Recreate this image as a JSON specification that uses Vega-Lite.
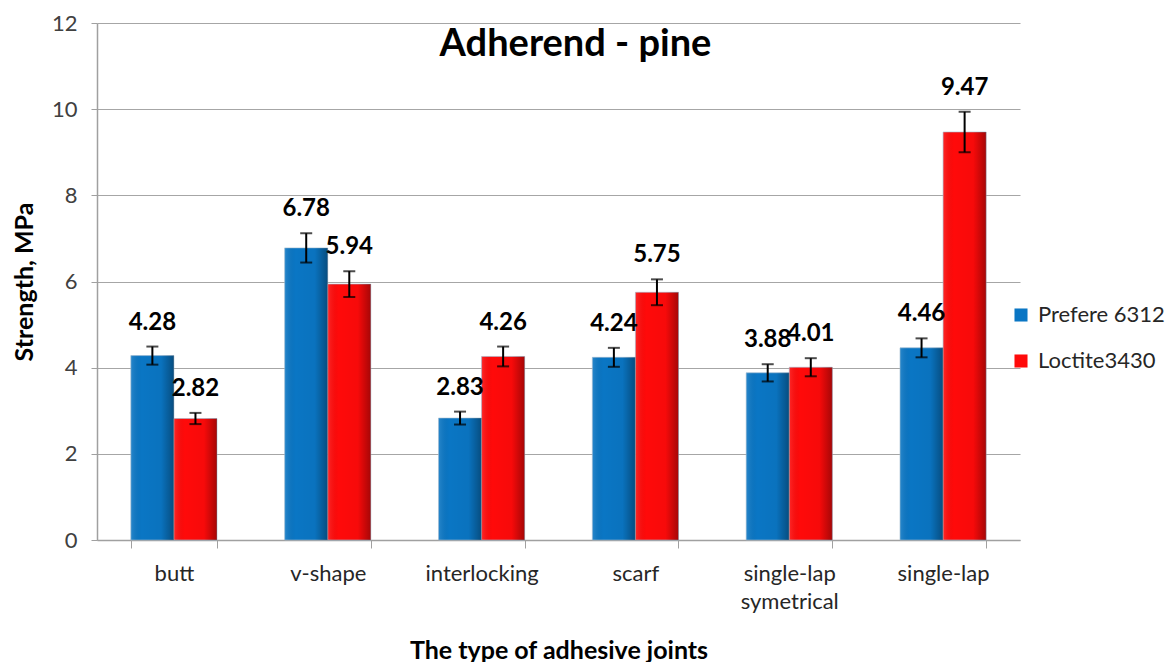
{
  "$schema": "https://vega.github.io/schema/vega-lite/v6.json",
  "width": 923,
  "height": 517,
  "autosize": "none",
  "padding": {"left": 97, "top": 23, "right": 155, "bottom": 122},
  "background": "white",
  "config": {"view": {"stroke": null}},
  "title": {
    "text": "Adherend - pine",
    "font": "Lato",
    "fontSize": 38,
    "fontWeight": "bold",
    "color": "#000000",
    "anchor": "middle",
    "dx": 17,
    "offset": -52
  },
  "data": {
    "values": [
      {"joint": "butt", "adhesive": "Prefere 6312", "strength": 4.28, "lo": 4.07, "hi": 4.49},
      {"joint": "butt", "adhesive": "Loctite3430", "strength": 2.82, "lo": 2.69, "hi": 2.95},
      {"joint": "v-shape", "adhesive": "Prefere 6312", "strength": 6.78, "lo": 6.44, "hi": 7.12},
      {"joint": "v-shape", "adhesive": "Loctite3430", "strength": 5.94, "lo": 5.64, "hi": 6.24},
      {"joint": "interlocking", "adhesive": "Prefere 6312", "strength": 2.83, "lo": 2.68, "hi": 2.98},
      {"joint": "interlocking", "adhesive": "Loctite3430", "strength": 4.26, "lo": 4.03, "hi": 4.49},
      {"joint": "scarf", "adhesive": "Prefere 6312", "strength": 4.24, "lo": 4.02, "hi": 4.46},
      {"joint": "scarf", "adhesive": "Loctite3430", "strength": 5.75, "lo": 5.45, "hi": 6.05},
      {"joint": "single-lap symetrical", "adhesive": "Prefere 6312", "strength": 3.88, "lo": 3.68, "hi": 4.08},
      {"joint": "single-lap symetrical", "adhesive": "Loctite3430", "strength": 4.01, "lo": 3.80, "hi": 4.22},
      {"joint": "single-lap", "adhesive": "Prefere 6312", "strength": 4.46, "lo": 4.24, "hi": 4.68},
      {"joint": "single-lap", "adhesive": "Loctite3430", "strength": 9.47, "lo": 9.00, "hi": 9.94}
    ]
  },
  "encoding": {
    "x": {
      "field": "joint",
      "type": "nominal",
      "sort": ["butt", "v-shape", "interlocking", "scarf", "single-lap symetrical", "single-lap"],
      "scale": {"paddingInner": 0.44, "paddingOuter": 0.22},
      "axis": {
        "title": "The type of adhesive joints",
        "titleFont": "Lato",
        "titleFontSize": 25,
        "titleFontWeight": "bold",
        "titleColor": "#000000",
        "titlePadding": 26,
        "labelFont": "Lato",
        "labelFontSize": 22,
        "labelColor": "#262626",
        "labelAngle": 0,
        "labelPadding": 15,
        "labelLineHeight": 28,
        "labelExpr": "datum.value == 'single-lap symetrical' ? ['single-lap', 'symetrical'] : datum.value",
        "tickBand": "extent",
        "tickSize": 8,
        "tickColor": "#A0A0A0",
        "domainColor": "#A0A0A0",
        "domainWidth": 1.5,
        "grid": false
      }
    },
    "xOffset": {
      "field": "adhesive",
      "type": "nominal",
      "sort": ["Prefere 6312", "Loctite3430"],
      "scale": {"paddingInner": 0, "paddingOuter": 0}
    },
    "y": {
      "field": "strength",
      "type": "quantitative",
      "scale": {"domain": [0, 12], "nice": false},
      "axis": {
        "title": "Strength, MPa",
        "titleFont": "Lato",
        "titleFontSize": 25,
        "titleFontWeight": "bold",
        "titleColor": "#000000",
        "titlePadding": 14,
        "values": [0, 2, 4, 6, 8, 10, 12],
        "labelFont": "Lato",
        "labelFontSize": 22,
        "labelColor": "#404040",
        "labelPadding": 14,
        "tickSize": 6,
        "tickColor": "#A0A0A0",
        "domainColor": "#A0A0A0",
        "domainWidth": 1.5,
        "grid": true,
        "gridColor": "#A6A6A6",
        "gridWidth": 1.2
      }
    }
  },
  "layer": [
    {
      "mark": {"type": "bar", "stroke": "#9FB8CF", "strokeWidth": 0.6},
      "encoding": {
        "color": {
          "field": "adhesive",
          "type": "nominal",
          "sort": ["Prefere 6312", "Loctite3430"],
          "scale": {"domain": ["Prefere 6312", "Loctite3430"], "range": ["#0A76C4", "#FF0A0A"]},
          "legend": {
            "title": null,
            "orient": "none",
            "legendX": 913,
            "legendY": 281,
            "symbolType": "square",
            "symbolSize": 170,
            "symbolStrokeWidth": 0,
            "labelFont": "Lato",
            "labelFontSize": 22,
            "labelColor": "#262626",
            "rowPadding": 24,
            "labelOffset": 6
          }
        }
      }
    },
    {
      "mark": {
        "type": "bar",
        "fill": {
          "gradient": "linear",
          "x1": 0, "y1": 0, "x2": 1, "y2": 0,
          "stops": [
            {"offset": 0, "color": "rgba(255,255,255,0.12)"},
            {"offset": 0.25, "color": "rgba(0,0,0,0)"},
            {"offset": 0.7, "color": "rgba(0,0,0,0.03)"},
            {"offset": 1, "color": "rgba(0,0,0,0.35)"}
          ]
        }
      },
      "encoding": {}
    },
    {
      "mark": {"type": "rule", "color": "#000000", "strokeWidth": 2},
      "encoding": {
        "y": {"field": "lo", "type": "quantitative"},
        "y2": {"field": "hi"}
      }
    },
    {
      "mark": {"type": "tick", "color": "#000000", "thickness": 2, "size": 12},
      "encoding": {
        "y": {"field": "lo", "type": "quantitative"}
      }
    },
    {
      "mark": {"type": "tick", "color": "#000000", "thickness": 2, "size": 12},
      "encoding": {
        "y": {"field": "hi", "type": "quantitative"}
      }
    },
    {
      "mark": {"type": "text", "font": "Lato", "fontSize": 24, "fontWeight": "bold", "color": "#000000", "baseline": "bottom", "dy": -12},
      "encoding": {
        "y": {"field": "hi", "type": "quantitative"},
        "text": {"field": "strength", "type": "quantitative", "format": ".2f"}
      }
    }
  ]
}
